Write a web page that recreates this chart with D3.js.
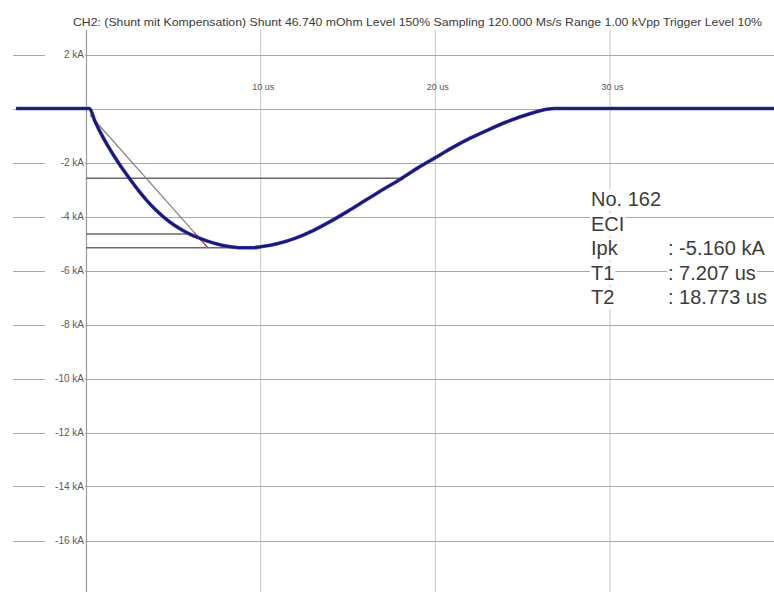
<!DOCTYPE html>
<html>
<head>
<meta charset="utf-8">
<script src="https://cdn.jsdelivr.net/npm/d3@7"></script>
<style>
  html, body { margin: 0; padding: 0; background: #fff; }
  svg { display: block; }
</style>
</head>
<body>
<svg id="chart" width="774" height="592"></svg>
<script>
// ---------------- data ----------------
const titleText = "CH2:  (Shunt mit Kompensation)  Shunt 46.740 mOhm  Level 150%  Sampling 120.000 Ms/s  Range 1.00 kVpp  Trigger Level 10%";

const timeUs = [-4.0, 0.2, 0.5, 1.0, 1.5, 2.0, 2.5, 3.0, 3.5, 4.0, 4.5, 5.0, 5.5, 6.0, 6.5, 7.0, 7.5, 8.0, 8.5, 9.0, 9.5, 10, 11, 12, 13, 14, 15, 16, 17, 18, 19, 20, 21, 22, 23, 24, 25, 26, 26.8, 40];
const currentKA = [0, 0, -0.45, -1.1, -1.65, -2.15, -2.6, -3.03, -3.42, -3.76, -4.05, -4.3, -4.5, -4.67, -4.8, -4.92, -5.02, -5.09, -5.14, -5.16, -5.16, -5.12, -5.0, -4.8, -4.52, -4.18, -3.8, -3.4, -3.0, -2.62, -2.2, -1.82, -1.44, -1.1, -0.8, -0.52, -0.28, -0.08, 0, 0];

const yTickValues = [2, 0, -2, -4, -6, -8, -10, -12, -14, -16];
const yTickLabels = ["2 kA", "", "-2 kA", "-4 kA", "-6 kA", "-8 kA", "-10 kA", "-12 kA", "-14 kA", "-16 kA"];
const xTickValues = [10, 20, 30];
const xTickLabels = ["10 us", "20 us", "30 us"];

// measurement level lines (50 %, 90 %, 100 % of peak) and where they end in time
const levelValues = [-2.58, -4.644, -5.16];
const levelEndTimes = [18.1, 6.1, 9.3];

// rise-time tangent (start / end points) and its highlighted tip
const tangentTimes = [0.23, 6.98];
const tangentValues = [-0.24, -5.16];
const tangentTipTimes = [6.2, 6.98];
const tangentTipValues = [-4.59, -5.16];

const infoLabels = ["No. 162", "ECI", "Ipk", "T1", "T2"];
const infoValues = ["", "", ": -5.160 kA", ": 7.207 us", ": 18.773 us"];

// ---------------- scales ----------------
const svg = d3.select("#chart");
const x = d3.scaleLinear().domain([0, 30]).range([86, 610]);
const y = d3.scaleLinear().domain([2, -16]).range([54.5, 540.5]);

// ---------------- title ----------------
svg.append("text")
  .attr("x", 73).attr("y", 26)
  .attr("textLength", 689).attr("lengthAdjust", "spacingAndGlyphs")
  .style("font-family", "'Liberation Sans', Arial, sans-serif")
  .style("font-size", "11px").style("fill", "#3a3a3a")
  .text(titleText);

// ---------------- grid ----------------
const grid = svg.append("g");
// vertical grid lines
grid.selectAll("line.vg").data(xTickValues).enter().append("line")
  .attr("x1", d => x(d)).attr("x2", d => x(d))
  .attr("y1", 30).attr("y2", 592)
  .attr("stroke", "#c6c6c6").attr("stroke-width", 1);
// horizontal grid lines
grid.selectAll("line.hg").data(yTickValues).enter().append("line")
  .attr("x1", 13).attr("x2", 774)
  .attr("y1", d => Math.round(y(d)) + 0.5).attr("y2", d => Math.round(y(d)) + 0.5)
  .attr("stroke", "#a9a9a9").attr("stroke-width", 1);
// y-axis line
grid.append("line")
  .attr("x1", x(0) + 0.5).attr("x2", x(0) + 0.5)
  .attr("y1", 30).attr("y2", 592)
  .attr("stroke", "#9a9a9a").attr("stroke-width", 1.2);

// y labels with white backdrop
const yAxis = d3.axisLeft(y).tickValues(yTickValues.filter((d, i) => yTickLabels[i] !== ""))
  .tickFormat(d => yTickLabels[yTickValues.indexOf(d)]).tickSize(0).tickPadding(2);
const yG = svg.append("g").attr("transform", `translate(${x(0)},0)`).call(yAxis);
yG.select(".domain").remove();
yG.selectAll(".tick").insert("rect", "text")
  .attr("x", -41).attr("y", -5).attr("width", 40).attr("height", 10).attr("fill", "#fff");
yG.selectAll("text")
  .style("font-family", "'Liberation Sans', Arial, sans-serif")
  .style("font-size", "10px").style("fill", "#5a5a5a");

// x labels
const xAxis = d3.axisTop(x).tickValues(xTickValues)
  .tickFormat(d => xTickLabels[xTickValues.indexOf(d)]).tickSize(0).tickPadding(0);
const xG = svg.append("g").attr("transform", "translate(2,90)").call(xAxis);
xG.select(".domain").remove();
xG.selectAll("text")
  .style("font-family", "'Liberation Sans', Arial, sans-serif")
  .style("font-size", "9px").style("fill", "#555");

// ---------------- measurement lines ----------------
svg.selectAll("line.lvl").data(levelValues).enter().append("line")
  .attr("x1", x(0)).attr("x2", (d, i) => x(levelEndTimes[i]))
  .attr("y1", d => y(d)).attr("y2", d => y(d))
  .attr("stroke", "#6a6a6a").attr("stroke-width", 1.5);

svg.append("line")
  .attr("x1", x(tangentTimes[0])).attr("y1", y(tangentValues[0]))
  .attr("x2", x(tangentTimes[1])).attr("y2", y(tangentValues[1]))
  .attr("stroke", "#8a8080").attr("stroke-width", 1.2);
svg.append("line")
  .attr("x1", x(tangentTipTimes[0])).attr("y1", y(tangentTipValues[0]))
  .attr("x2", x(tangentTipTimes[1])).attr("y2", y(tangentTipValues[1]))
  .attr("stroke", "#d05050").attr("stroke-width", 1.4);

// ---------------- curve ----------------
const pts = timeUs.map((t, i) => [t, currentKA[i]]);
const line = d3.line().x(d => x(d[0])).y(d => y(d[1])).curve(d3.curveMonotoneX);
svg.append("path").datum(pts)
  .attr("d", line).attr("fill", "none")
  .attr("stroke", "#2e2ec8").attr("stroke-width", 3.6).attr("stroke-linejoin", "round");
svg.append("path").datum(pts)
  .attr("d", line).attr("fill", "none")
  .attr("stroke", "#1a1a5c").attr("stroke-width", 2).attr("stroke-linejoin", "round");

// ---------------- info block ----------------
const info = svg.append("g")
  .style("font-family", "'Liberation Sans', Arial, sans-serif")
  .style("font-size", "20px").style("fill", "#3c3c3c");
infoLabels.forEach((lab, i) => {
  const by = 206 + i * 24.5;
  const t1 = info.append("text").attr("x", 591).attr("y", by).text(lab);
  const b1 = t1.node().getBBox();
  info.insert("rect", "text").attr("x", b1.x - 1).attr("y", by - 17).attr("width", b1.width + 2).attr("height", 22).attr("fill", "#fff");
  if (infoValues[i]) {
    const t2 = info.append("text").attr("x", 668).attr("y", by).text(infoValues[i]);
    const b2 = t2.node().getBBox();
    info.insert("rect", "text").attr("x", b2.x - 1).attr("y", by - 17).attr("width", b2.width + 2).attr("height", 22).attr("fill", "#fff");
  }
});
</script>
</body>
</html>
